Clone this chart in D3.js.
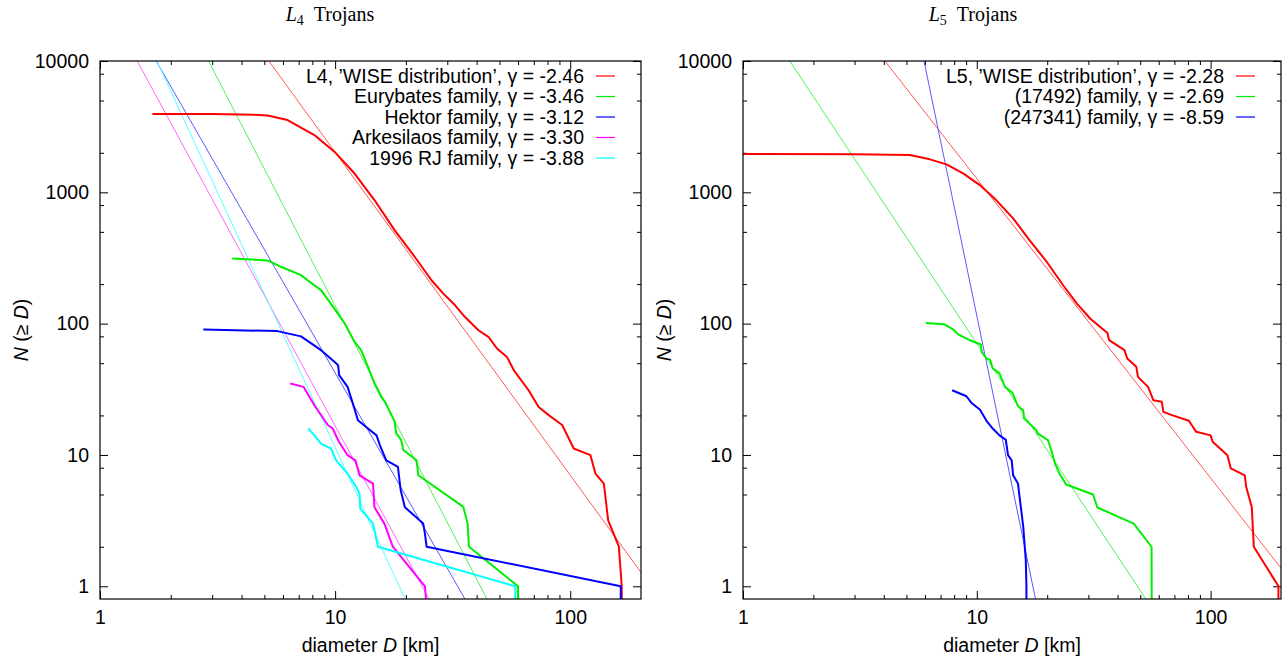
<!DOCTYPE html>
<html>
<head>
<meta charset="utf-8">
<script src="https://cdn.jsdelivr.net/npm/d3@7"></script>
<style>
	body { margin: 0; background: #fff; }
	svg text { font-family: "Liberation Sans", Arial, sans-serif; }
</style>
</head>
<body>
<svg id="chart" width="1287" height="666"></svg>
<script>
// ---- data: [diameter D km, N(>=D)] ----
var l4Wise = [[1.67, 3950], [3.0, 3940], [4.5, 3900], [5.16, 3840], [6.28, 3550], [8.16, 2730], [9.93, 2040],
	[12.1, 1390], [14.7, 873], [17.9, 515], [21.8, 323], [25.7, 214], [28.8, 170], [32.4, 138], [35.1, 116],
	[40.7, 89], [45, 79], [48.8, 64.7], [53.8, 55.8], [57.5, 44.3], [66.5, 31.1], [73.4, 23.2], [81, 20.1],
	[92.4, 16.9], [103.5, 11.2], [121.9, 9.96], [128, 7.22], [139, 6.06], [145, 3.18], [161, 2.0], [165.6, 1], [165.6, 0.7]];
var l4Eurybates = [[3.65, 314], [5.16, 303], [5.88, 271], [7.16, 234], [7.64, 214], [8.71, 180], [9.93, 130],
	[11, 100], [12.1, 72.6], [12.9, 62.8], [13.8, 46.9], [14.7, 35], [15.7, 27.7], [16.3, 25.4], [17.9, 18],
	[18.2, 14.6], [19.1, 13], [19.5, 10.9], [22.2, 9.1], [22.6, 7.0], [35.1, 4.02], [36.6, 3.0], [37.1, 2.0],
	[60, 1], [60, 0.7]];
var l4Hektor = [[2.75, 90.3], [5.69, 87.7], [7.16, 80], [8.71, 62.8], [9.93, 51.2], [10.3, 48.3], [10.4, 40.5],
	[11.3, 33], [11.9, 24.6], [12.5, 18.4], [13.8, 15.9], [15, 14.1], [15.5, 11.9], [16.5, 9.1], [18.5, 8.1],
	[19, 5.4], [19.8, 4.0], [23.7, 3.0], [24.1, 2.52], [24.5, 2.0], [164, 1], [164, 0.7]];
var l4Arkesilaos = [[6.44, 35], [7.34, 33], [8.16, 23.9], [9.31, 16.9], [9.77, 15.9], [10.3, 12.9], [11.3, 9.96],
	[12.2, 9.1], [12.7, 7.0], [14.5, 6.06], [14.7, 4.0], [16.2, 3.0], [17.6, 2.0], [24.1, 1], [24.5, 0.7]];
var l4Rj = [[7.69, 15.9], [8.16, 14.1], [8.71, 12.2], [9.6, 11.2], [10.1, 9.1], [11.3, 7.2], [12.3, 5.7],
	[12.7, 5.1], [12.8, 3.9], [14.5, 3.0], [15.2, 2.0], [58.4, 1], [58.4, 0.7]];

var l5Wise = [[1.0, 1955], [3.0, 1950], [5.17, 1922], [6.3, 1783], [7.42, 1633], [8.74, 1394], [10.3, 1135],
	[12.1, 873], [14.3, 633], [16.8, 433], [19.9, 296], [23.4, 196], [26.8, 142], [30.6, 109], [36.2, 85],
	[36.8, 74.8], [42.8, 62.8], [44, 54.3], [48.1, 46.9], [48.9, 39.3], [54, 33], [56.9, 26.1], [61.8, 25.4],
	[62.8, 21.3], [68.3, 20.1], [80.7, 18.2], [86.8, 15], [100, 14.1], [102, 12.6], [118, 9.96], [122, 7.9],
	[140, 7.0], [142, 5.7], [150, 4.0], [153, 2.0], [195, 1], [195, 0.7]];
var l5Fam17492 = [[6.05, 101], [7.23, 99], [7.92, 90.3], [8.32, 82.8], [9.33, 74.8], [10.4, 69.4], [10.5, 61],
	[11, 54.3], [11.4, 53], [11.7, 45.6], [12.5, 41.8], [13.2, 33], [14.2, 29.7], [15, 23.5], [15.8, 21.9],
	[15.9, 19], [18, 15.4], [18.2, 14.6], [20.2, 12.9], [21.0, 10.3], [21.6, 8.6], [22.6, 7.2], [24.1, 5.96],
	[31.4, 5.0], [32.8, 3.98], [46.9, 3.0], [55.9, 2.0], [56, 0.7]];
var l5Fam247341 = [[7.84, 31.1], [9.03, 28], [9.49, 24.9], [10.3, 22.2], [11, 18.2], [11.7, 15.9], [12.5, 14.1],
	[13.3, 13.1], [13.6, 9.96], [14.1, 9.1], [14.3, 7.0], [15, 6.06], [15.8, 2.83], [16.2, 1.58], [16.3, 1], [16.3, 0.7]];

// legend names, slopes and fitted log10 amplitudes (N = 10^a * D^gamma)
var l4Names = ["L4, \u2019WISE distribution\u2019", "Eurybates family", "Hektor family", "Arkesilaos family", "1996 RJ family"];
var l4Gamma = [-2.46, -3.46, -3.12, -3.30, -3.88];
var l4FitLogA = [5.766, 5.597, 4.746, 4.522, 4.939];
var l5Names = ["L5, \u2019WISE distribution\u2019", "(17492) family", "(247341) family"];
var l5Gamma = [-2.28, -2.69, -8.59];
var l5FitLogA = [5.384, 4.538, 10.65];

var xMajor = [1, 10, 100];
var xMinor = [2, 3, 4, 5, 6, 7, 8, 9, 20, 30, 40, 50, 60, 70, 80, 90];
var yMajor = [1, 10, 100, 1000, 10000];
var yMinor = [2, 5, 8, 20, 50, 80, 200, 500, 800, 2000, 5000, 8000];

var colors = ["#ff0000", "#00ee00", "#0000ff", "#ff00ff", "#00ffff"];
var fitColors = ["#ff5a5a", "#55f055", "#5a5aff", "#ff66ff", "#55ffff"];

var svg = d3.select("#chart");
var plotTop = 61, plotBottom = 599;
var fontSize = 19.5;

var drawPanel = function(p) {
	var x = d3.scaleLog().domain([1, 200]).range([p.x0, p.x1]);
	var y = d3.scaleLog().domain([0.8, 10000]).range([plotBottom, plotTop]);
	var g = svg.append("g");

	g.append("clipPath").attr("id", "clip" + p.id)
		.append("rect")
		.attr("x", p.x0).attr("y", plotTop)
		.attr("width", p.x1 - p.x0).attr("height", plotBottom - plotTop);

	var clean = function(sel) {
		sel.select(".domain").remove();
		sel.selectAll("line").attr("stroke", "#000");
		sel.selectAll("text").attr("font-size", fontSize).attr("fill", "#000")
			.attr("font-family", "Liberation Sans, Arial, sans-serif");
	};
	// major + minor ticks, all pointing inward, mirrored on top / right
	g.append("g").attr("transform", "translate(0," + plotBottom + ")")
		.call(d3.axisBottom(x).tickValues(xMajor).tickFormat(d3.format("d")).tickSize(-8).tickPadding(11)).call(clean);
	g.append("g").attr("transform", "translate(0," + plotBottom + ")")
		.call(d3.axisBottom(x).tickValues(xMinor).tickFormat("").tickSize(-4)).call(clean);
	g.append("g").attr("transform", "translate(0," + plotTop + ")")
		.call(d3.axisTop(x).tickValues(xMajor).tickFormat("").tickSize(-8)).call(clean);
	g.append("g").attr("transform", "translate(0," + plotTop + ")")
		.call(d3.axisTop(x).tickValues(xMinor).tickFormat("").tickSize(-4)).call(clean);
	g.append("g").attr("transform", "translate(" + p.x0 + ",0)")
		.call(d3.axisLeft(y).tickValues(yMajor).tickFormat(d3.format("d")).tickSize(-8).tickPadding(11)).call(clean);
	g.append("g").attr("transform", "translate(" + p.x0 + ",0)")
		.call(d3.axisLeft(y).tickValues(yMinor).tickFormat("").tickSize(-4)).call(clean);
	g.append("g").attr("transform", "translate(" + p.x1 + ",0)")
		.call(d3.axisRight(y).tickValues(yMajor).tickFormat("").tickSize(-8)).call(clean);
	g.append("g").attr("transform", "translate(" + p.x1 + ",0)")
		.call(d3.axisRight(y).tickValues(yMinor).tickFormat("").tickSize(-4)).call(clean);

	var line = d3.line()
		.x(function(d) { return x(d[0]); })
		.y(function(d) { return y(d[1]); });

	var plot = g.append("g").attr("clip-path", "url(#clip" + p.id + ")");

	// power-law fits, thin
	plot.selectAll("path.fit")
		.data(p.gamma)
		.enter()
		.append("path")
		.attr("class", "fit")
		.attr("d", function(gm, i) {
			var f = function(D) { return Math.pow(10, p.logA[i]) * Math.pow(D, gm); };
			return line([[1, f(1)], [200, f(200)]]);
		})
		.attr("fill", "none")
		.attr("stroke", function(d, i) { return fitColors[i]; })
		.attr("stroke-width", 1);

	// cumulative distributions, thick
	plot.selectAll("path.data")
		.data(p.series)
		.enter()
		.append("path")
		.attr("class", "data")
		.attr("d", line)
		.attr("fill", "none")
		.attr("stroke", function(d, i) { return colors[i]; })
		.attr("stroke-width", 2)
		.attr("stroke-linejoin", "round");

	g.append("rect")
		.attr("x", p.x0).attr("y", plotTop)
		.attr("width", p.x1 - p.x0).attr("height", plotBottom - plotTop)
		.attr("fill", "none").attr("stroke", "#000").attr("stroke-width", 1.2);

	// legend
	var leg = g.selectAll("g.leg")
		.data(p.names)
		.enter()
		.append("g")
		.attr("class", "leg")
		.attr("transform", function(d, i) { return "translate(0," + (76 + i * 20.5) + ")"; });
	leg.append("text")
		.attr("x", p.x1 - 57)
		.attr("dy", "0.35em")
		.attr("text-anchor", "end")
		.attr("font-size", fontSize)
		.text(function(d, i) { return d + ", \u03b3 = " + p.gamma[i].toFixed(2); });
	leg.append("line")
		.attr("x1", p.x1 - 45).attr("x2", p.x1 - 26)
		.attr("stroke", function(d, i) { return colors[i]; })
		.attr("stroke-width", 1.2);

	// title (centred on the panel canvas, not on the plot box)
	var t = svg.append("text")
		.attr("x", p.tx).attr("y", 21)
		.attr("text-anchor", "middle")
		.style("font-family", "'Liberation Serif', 'DejaVu Serif', serif")
		.attr("font-size", 20);
	t.append("tspan").attr("font-style", "italic").text("L");
	t.append("tspan").attr("dy", 4).attr("font-size", 14).text(p.sub);
	t.append("tspan").attr("dy", -4).text("\u2002Trojans");

	// x label
	var xl = svg.append("text")
		.attr("x", (p.x0 + p.x1) / 2).attr("y", 652)
		.attr("text-anchor", "middle")
		.attr("font-size", fontSize);
	xl.append("tspan").text("diameter ");
	xl.append("tspan").attr("font-style", "italic").text("D");
	xl.append("tspan").text(" [km]");

	// y label
	var yl = svg.append("text")
		.attr("transform", "translate(" + p.ylx + ",330) rotate(-90)")
		.attr("text-anchor", "middle")
		.attr("font-size", fontSize);
	yl.append("tspan").attr("font-style", "italic").text("N");
	yl.append("tspan").text(" (\u2265 ");
	yl.append("tspan").attr("font-style", "italic").text("D");
	yl.append("tspan").text(")");
};

drawPanel({ id: "l4", x0: 100, x1: 641, ylx: 28, tx: 330, sub: "4",
	series: [l4Wise, l4Eurybates, l4Hektor, l4Arkesilaos, l4Rj],
	names: l4Names, gamma: l4Gamma, logA: l4FitLogA });
drawPanel({ id: "l5", x0: 743, x1: 1281, ylx: 671, tx: 973, sub: "5",
	series: [l5Wise, l5Fam17492, l5Fam247341],
	names: l5Names, gamma: l5Gamma, logA: l5FitLogA });
</script>
</body>
</html>
